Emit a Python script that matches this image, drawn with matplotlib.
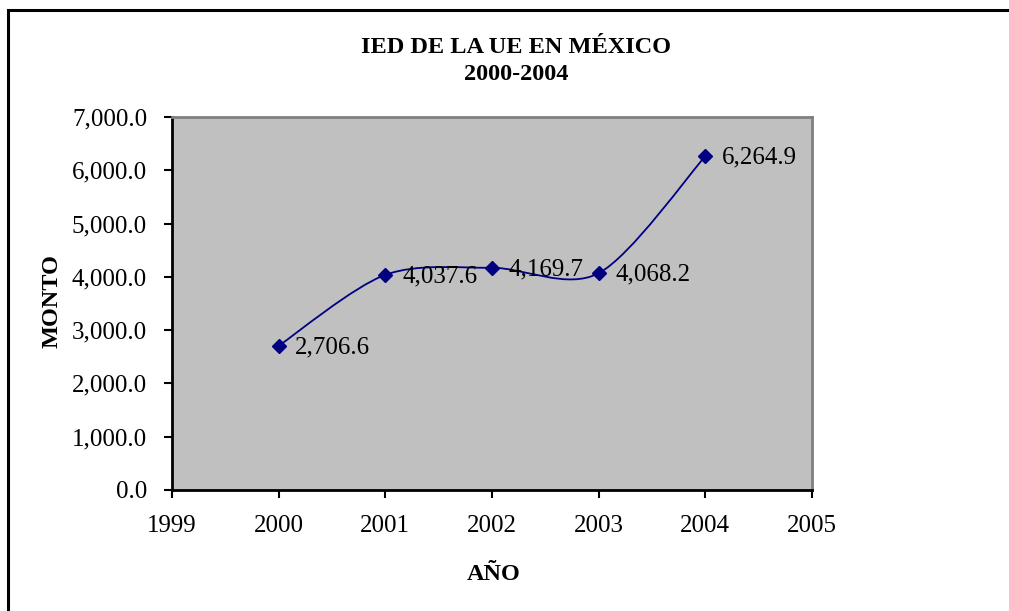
import numpy as np
import matplotlib.pyplot as plt
from matplotlib.path import Path
from matplotlib.patches import PathPatch, Rectangle

years = [2000, 2001, 2002, 2003, 2004]
monto = [2706.6, 4037.6, 4169.7, 4068.2, 6264.9]
title = "IED DE LA UE EN MÉXICO\n2000-2004"
x_ticks = [1999, 2000, 2001, 2002, 2003, 2004, 2005]
y_ticks = [0, 1000, 2000, 3000, 4000, 5000, 6000, 7000]

NAVY = "#000080"
plt.rcParams["font.family"] = ["Liberation Serif", "DejaVu Serif"]


def smooth_path(xs, ys, k=1 / 6):
    # Catmull-Rom style bezier, close to Excel's smoothed line
    pts = np.column_stack([xs, ys]).astype(float)
    n = len(pts)
    verts = [pts[0]]
    codes = [Path.MOVETO]
    for i in range(n - 1):
        p0 = pts[i - 1] if i > 0 else pts[i]
        p1, p2 = pts[i], pts[i + 1]
        p3 = pts[i + 2] if i + 2 < n else pts[i + 1]
        c1 = p1 + (p2 - p0) * k
        c2 = p2 - (p3 - p1) * k
        verts += [c1, c2, p2]
        codes += [Path.CURVE4] * 3
    return Path(verts, codes)


fig = plt.figure(figsize=(10.09, 6.11), dpi=100)
fig.patch.set_facecolor("white")
fig.patches.append(Rectangle((8 / 1009, -0.1), 1.2, 0.1 + (611 - 10) / 611,
                             transform=fig.transFigure, fill=False,
                             edgecolor="black", linewidth=2.2))

ax = fig.add_axes([172 / 1009, 1 - 490 / 611, 640 / 1009, 373 / 611])
ax.set_facecolor("#c0c0c0")

ax.add_patch(PathPatch(smooth_path(years, monto, k=0.15), facecolor="none",
                       edgecolor=NAVY, linewidth=1.3, zorder=3))
ax.plot(years, monto, linestyle="none", marker="D", markersize=7,
        color=NAVY, zorder=4)

for x, y in zip(years, monto):
    ax.annotate(f"{y:,.1f}", (x, y), xytext=(12, -1), textcoords="offset points",
                ha="left", va="center", fontsize=18, color="black", zorder=5)

ax.set_xlim(1999, 2005)
ax.set_ylim(0, 7000)
ax.set_xticks(x_ticks)
ax.set_xticklabels([str(v) for v in x_ticks])
ax.set_yticks(y_ticks)
ax.set_yticklabels([f"{v:,.1f}" for v in y_ticks])
ax.tick_params(axis="both", direction="out", length=6, width=1.5,
               labelsize=18, colors="black")
ax.tick_params(axis="x", pad=12)
ax.tick_params(axis="y", pad=12)

for side in ["left", "bottom"]:
    ax.spines[side].set_color("black")
    ax.spines[side].set_linewidth(2)
for side in ["top", "right"]:
    ax.spines[side].set_color("#808080")
    ax.spines[side].set_linewidth(2)

fig.text(516 / 1009, 1 - 61 / 611, title, ha="center", va="center",
         fontsize=17.5, fontweight="bold", linespacing=1.32)
fig.text(52 / 1009, 1 - 301 / 611, "MONTO", rotation=90, ha="center",
         va="center", fontsize=17.5, fontweight="bold")
fig.text(494 / 1009, 1 - 575 / 611, "AÑO", ha="center", va="center",
         fontsize=17.5, fontweight="bold")

fig.savefig("out.png", dpi=100)
